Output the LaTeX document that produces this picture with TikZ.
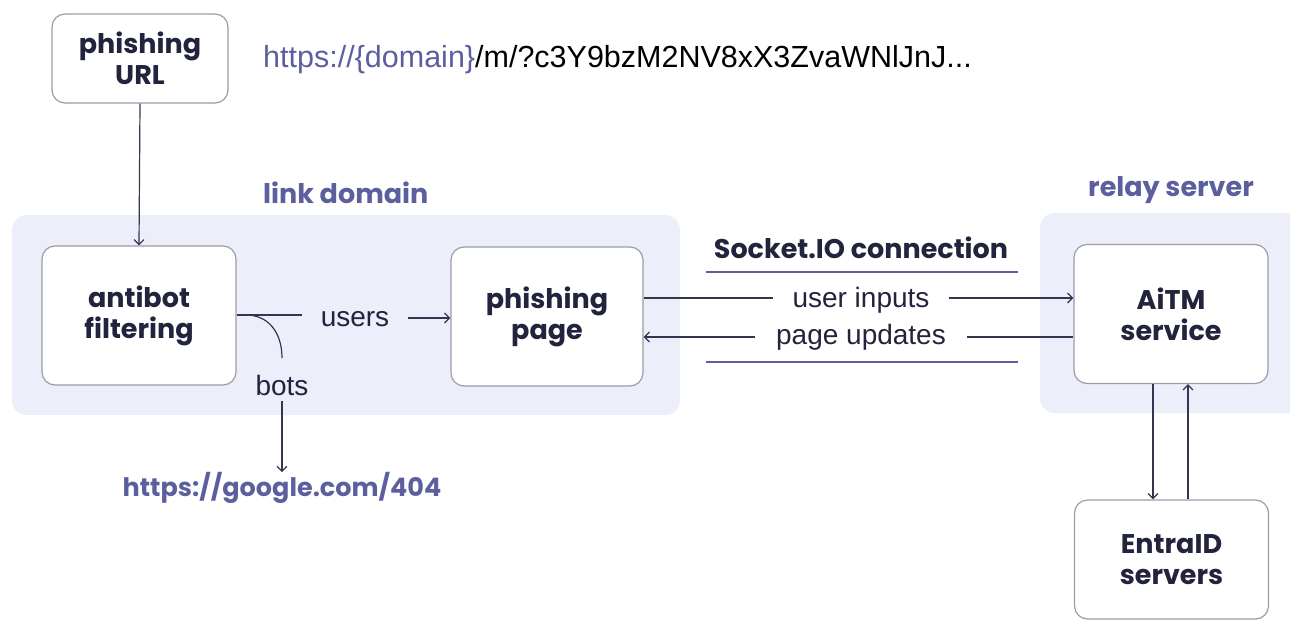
\documentclass[tikz,border=0pt]{standalone}
\usepackage{fontspec}
\setmainfont{Liberation Sans}
\newfontfamily\pop{Poppins}
\usetikzlibrary{arrows.meta}
\definecolor{navy}{HTML}{22233C}
\definecolor{lav}{HTML}{5C5F9E}
\definecolor{regfill}{HTML}{ECEEF9}
\definecolor{boxline}{HTML}{9C9CAC}
\definecolor{conn}{HTML}{34354F}
\begin{document}
\begin{tikzpicture}[x=1pt,y=-1pt,
  boxn/.style={draw=boxline, line width=1.2pt, fill=white, rounded corners=13pt,
    minimum width=194pt, minimum height=139pt, align=center, text=navy,
    font=\pop\bfseries\fontsize{27}{31}\selectfont},
  lbl/.style={text=navy, font=\fontsize{28}{32}\selectfont, inner xsep=19pt, inner ysep=2pt},
  head/.style={text=lav, font=\pop\bfseries\fontsize{27}{31}\selectfont, inner sep=0pt},
  arr/.style={draw=conn, line width=1.2pt, -{Straight Barb[length=5pt,width=10pt]}},
  ln/.style={draw=conn, line width=1.2pt},
  sock/.style={draw=lav, line width=2.4pt}
]
\useasboundingbox (0,0) rectangle (1290,621);
\begin{scope}
\clip (0,0) rectangle (1290,621);
% regions
\fill[regfill, rounded corners=15pt] (12,215) rectangle (680,415);
\fill[regfill, rounded corners=15pt] (1040,213) rectangle (1320,413);
% boxes
\node[boxn, minimum width=176pt, minimum height=89pt] (url) at (140,58.5) {phishing\\URL};
\node[boxn] (anti) at (139,315.5) {antibot\\filtering};
\node[boxn, minimum width=192pt] (page) at (547,316.5) {phishing\\page};
\node[boxn] (aitm) at (1171,314) {AiTM\\service};
\node[boxn, minimum height=119pt] (entra) at (1171.5,559.5) {EntraID\\servers};
\end{scope}
% headings
\node[anchor=west, inner sep=0pt, font=\fontsize{30.5}{34}\selectfont] (urltxt) at (263,60)
  {\textcolor{lav}{https://\{domain\}}\textcolor{black}{/m/?c3Y9bzM2NV8xX3ZvaWNlJnJ...}};
\node[head, anchor=west] (ld) at (263,193) {link domain};
\node[head, anchor=west] (rs) at (1088,190) {relay server};
\node[head, text=navy] (sio) at (861,248) {Socket.IO connection};
\node[text=lav, font=\pop\fontsize{25.5}{30}\selectfont\bfseries, inner sep=0pt] (goo) at (282,488) {https://google.com/404};
% socket lines
\coordinate (s1a) at (706,272); \coordinate (s1b) at (1018,272);
\coordinate (s2a) at (706,362); \coordinate (s2b) at (1018,362);
\draw[sock] (s1a) -- (s1b);
\draw[sock] (s2a) -- (s2b);
% url -> antibot
\draw[arr] (url.south) -- (anti.north);
% users
\node[lbl] (users) at (355,319) {users};
\draw[ln] (anti.east |- 0,315) -- (users.west |- 0,315);
\draw[arr] (users.east |- 0,318) -- (page.west |- 0,318);
% bots
\coordinate (split) at (246,315);
\coordinate (bend) at (282,358);
\draw[ln] (split) .. controls (268,315) and (282,332) .. (bend);
\node[lbl, inner ysep=6pt] (bots) at (282,385) {bots};
\draw[arr] (bots.south) -- (goo.north);
% user inputs / page updates
\node[lbl] (ui) at (861,300) {user inputs};
\node[lbl, inner xsep=21pt] (pu) at (861,337) {page updates};
\draw[ln] (page.east |- 0,298) -- (ui.west |- 0,298);
\draw[arr] (ui.east |- 0,298) -- (aitm.west |- 0,298);
\draw[ln] (aitm.west |- 0,337) -- (pu.east |- 0,337);
\draw[arr] (pu.west |- 0,337) -- (page.east |- 0,337);
% aitm <-> entra
\draw[arr] (aitm.south -| 1153,0) -- (entra.north -| 1153,0);
\draw[arr] (entra.north -| 1188,0) -- (aitm.south -| 1188,0);
\end{tikzpicture}
\end{document}
